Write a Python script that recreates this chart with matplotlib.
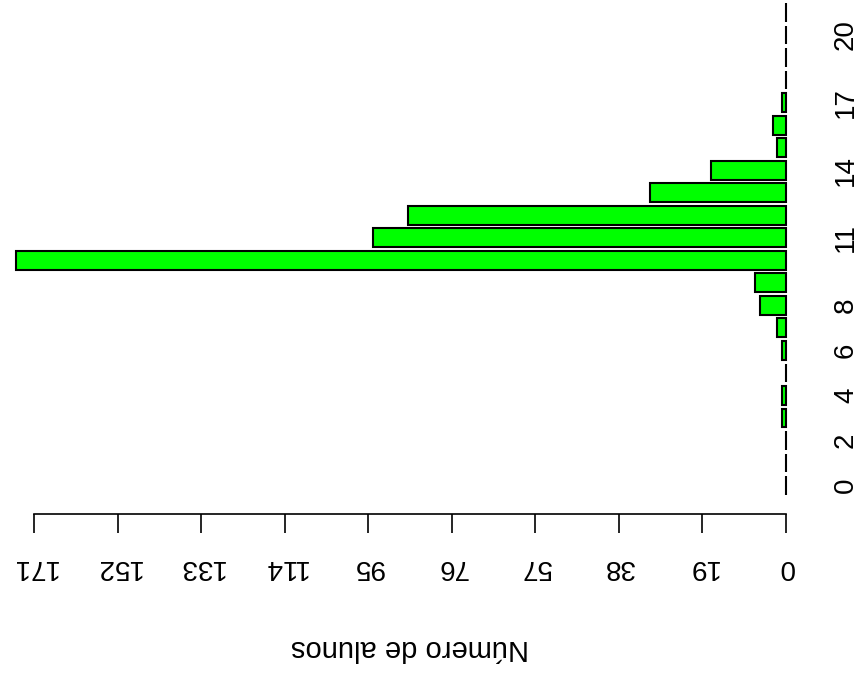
import matplotlib
matplotlib.use("Agg")
import matplotlib.pyplot as plt

plt.rcParams['font.family'] = ['Liberation Sans', 'DejaVu Sans']

# Data: grade (0..21) -> number of students
notas = list(range(22))
alunos = [0, 0, 0, 1, 1, 0, 1, 2, 6, 7, 175, 94, 86, 31, 17, 2, 3, 1, 0, 0, 0, 0]
x_ticks = [0, 19, 38, 57, 76, 95, 114, 133, 152, 171]
y_tick_pos = [0, 2, 4, 6, 8, 11, 14, 17, 20]
y_tick_labels = ["0", "2", "4", "6", "8", "11", "14", "17", "20"]
xlabel = "Número de alunos"

W, H = 863, 673
fig = plt.figure(figsize=(W / 100, H / 100), dpi=100)

# axes placement in pixels
ax_left_px, ax_right_px = 0, 810
ax_top_px, ax_bottom_px = 0, 514
ax = fig.add_axes([ax_left_px / W, 1 - ax_bottom_px / H,
                   (ax_right_px - ax_left_px) / W, (ax_bottom_px - ax_top_px) / H])

ax.barh(notas, alunos, height=1 / 1.2, color='#00ff00', edgecolor='black',
        linewidth=1.5, clip_on=False)

ax.set_xlim(178.72, -5.457)
ax.set_ylim(-1.265, 21.555)

for s in ['left', 'right', 'top']:
    ax.spines[s].set_visible(False)
ax.spines['bottom'].set_bounds(x_ticks[0], x_ticks[-1])
ax.spines['bottom'].set_linewidth(1.2)

ax.set_xticks(x_ticks)
ax.set_xticklabels([str(t) for t in x_ticks], rotation=180, fontsize=20)
ax.tick_params(axis='x', direction='out', length=13.7, width=1.2, pad=15)

ax.yaxis.tick_right()
ax.set_yticks(y_tick_pos)
ax.set_yticklabels(y_tick_labels, rotation=90, fontsize=20, va='center')
ax.tick_params(axis='y', length=0, pad=16.5)

fig.text((786 - 85.5 * 4.398) / W, 1 - 648 / H, xlabel, rotation=180,
         ha='center', va='center', fontsize=21)

fig.savefig('out.png', dpi=100, facecolor='white')
